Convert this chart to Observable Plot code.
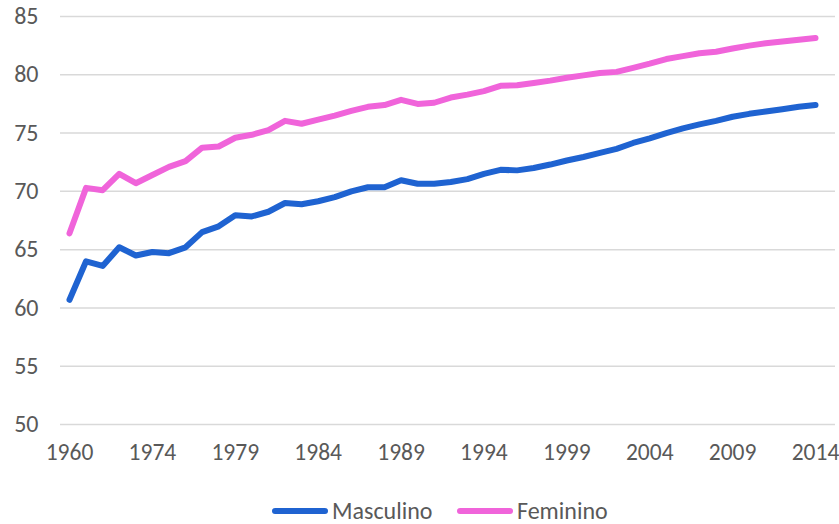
<!DOCTYPE html>
<html>
<head>
<meta charset="utf-8">
<script src="https://cdn.jsdelivr.net/npm/d3@7"></script>
<script src="https://cdn.jsdelivr.net/npm/@observablehq/plot@0.6"></script>
<style>
  html, body { margin: 0; padding: 0; background: #fff; }
  body { width: 839px; height: 524px; overflow: hidden; position: relative; font-family: Calibri, Carlito, Lato, "Open Sans", sans-serif; }
  #legend { position: absolute; top: 498px; left: 0; width: 839px; height: 26px; }
  .item { position: absolute; top: 0; height: 26px; line-height: 26px; display: flex; align-items: center; color: #595959; font-size: 24px; }
  .sw { display: inline-block; width: 56px; height: 6px; border-radius: 3px; margin-right: 4px; }
</style>
</head>
<body>
<div id="chart"></div>
<div id="legend"></div>
<script>
const categories = ["1960","1970","1971","1972","1973","1974","1975","1976","1977","1978","1979","1980","1981","1982","1983","1984","1985","1986","1987","1988","1989","1990","1991","1992","1993","1994","1995","1996","1997","1998","1999","2000","2001","2002","2003","2004","2005","2006","2007","2008","2009","2010","2011","2012","2013","2014"];
const tickLabels = ["1960","1974","1979","1984","1989","1994","1999","2004","2009","2014"];
const seriesNames = ["Masculino", "Feminino"];
const masculino = [60.7,64.0,63.6,65.2,64.5,64.8,64.7,65.2,66.5,67.0,67.95,67.85,68.25,69.0,68.9,69.15,69.5,70.0,70.35,70.35,70.95,70.65,70.65,70.8,71.05,71.5,71.85,71.8,72.0,72.3,72.65,72.95,73.3,73.65,74.15,74.55,75.0,75.4,75.75,76.05,76.4,76.65,76.85,77.05,77.25,77.4];
const feminino = [66.4,70.3,70.1,71.5,70.7,71.4,72.1,72.6,73.75,73.85,74.6,74.85,75.25,76.05,75.8,76.15,76.5,76.9,77.25,77.4,77.85,77.5,77.6,78.05,78.3,78.6,79.05,79.1,79.3,79.5,79.75,79.95,80.15,80.25,80.6,80.95,81.35,81.6,81.85,81.98,82.25,82.5,82.7,82.85,83.0,83.15];
const yTicks = [50,55,60,65,70,75,80,85];
const colors = ["#1f63d1", "#f064da"];

const data = [];
categories.forEach((c, i) => {
  data.push({year: c, value: masculino[i], serie: seriesNames[0]});
  data.push({year: c, value: feminino[i], serie: seriesNames[1]});
});

const chart = Plot.plot({
  width: 839,
  height: 480,
  marginTop: 16,
  marginBottom: 56,
  marginLeft: 60,
  marginRight: 4,
  style: {fontFamily: "Calibri, Carlito, Lato, 'Open Sans', sans-serif", fontSize: "24px", color: "#595959", background: "#fff"},
  x: {type: "point", domain: categories, padding: 0, round: false, insetLeft: 9, insetRight: 20},
  y: {domain: [50, 85]},
  color: {domain: seriesNames, range: colors},
  marks: [
    Plot.gridY(yTicks, {stroke: "#d9d9d9", strokeOpacity: 1, strokeWidth: 1.5}),
    Plot.axisY(yTicks, {tickSize: 0, tickPadding: 22, label: null, fill: "#595959"}),
    Plot.axisX(tickLabels, {tickSize: 0, tickPadding: 19, label: null, fill: "#595959", fontSize: 23.5}),
    Plot.line(data, {x: "year", y: "value", z: "serie", stroke: "serie", strokeWidth: 6, strokeLinejoin: "round", strokeLinecap: "round"})
  ]
});
document.getElementById("chart").appendChild(chart);

const legend = document.getElementById("legend");
const lefts = [272, 457];
seriesNames.forEach((n, i) => {
  const it = document.createElement("div");
  it.className = "item";
  it.style.left = lefts[i] + "px";
  const sw = document.createElement("span");
  sw.className = "sw";
  sw.style.background = colors[i];
  it.appendChild(sw);
  it.appendChild(document.createTextNode(n));
  legend.appendChild(it);
});
</script>
</body>
</html>
